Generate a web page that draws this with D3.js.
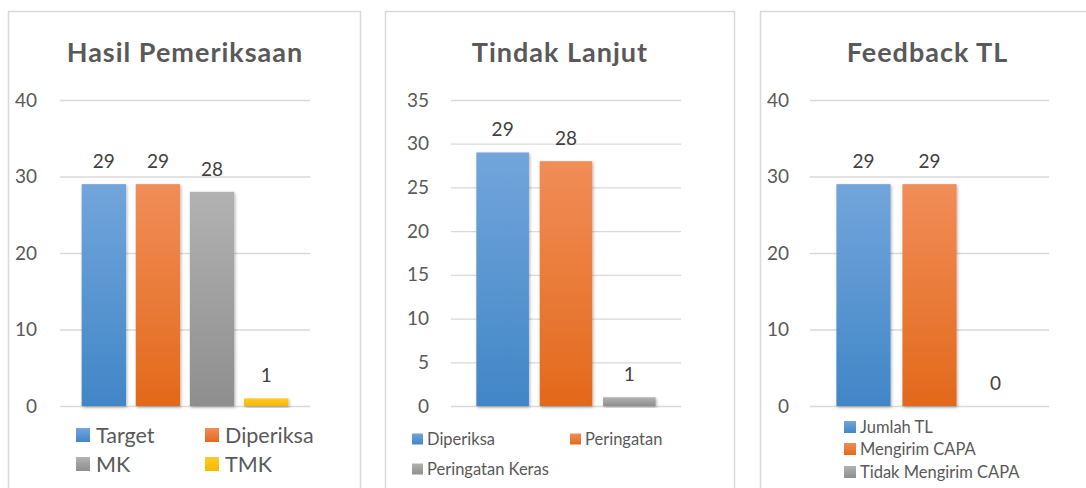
<!DOCTYPE html>
<html>
<head>
<meta charset="utf-8">
<script src="https://cdn.jsdelivr.net/npm/d3@7"></script>
<style>
  body { margin: 0; background: #fff; }
  svg { display: block; font-family: Lato, "Open Sans", sans-serif; }
</style>
</head>
<body>
<div id="chart"></div>
<script>
// chart 1
const hasilSeries = ['Target', 'Diperiksa', 'MK', 'TMK'];
const hasilValues = [29, 29, 28, 1];
const hasilTicks = [0, 10, 20, 30, 40];

// chart 2
const tindakSeries = ['Diperiksa', 'Peringatan', 'Peringatan Keras'];
const tindakValues = [29, 28, 1];
const tindakTicks = [0, 5, 10, 15, 20, 25, 30, 35];

// chart 3
const feedbackSeries = ['Jumlah TL', 'Mengirim CAPA', 'Tidak Mengirim CAPA'];
const feedbackValues = [29, 29, 0];
const feedbackTicks = [0, 10, 20, 30, 40];

const colors = {
  blue: ['#72a5db', '#4186c7'],
  orange: ['#f18d58', '#e2691b'],
  gray: ['#b2b2b2', '#8e8e8e'],
  yellow: ['#ffcb2b', '#f5b800']
};

const width = 1086, height = 488;
const svg = d3.select('#chart').append('svg')
  .attr('width', width)
  .attr('height', height);

const defs = svg.append('defs');

Object.keys(colors).forEach(k => {
  const g = defs.append('linearGradient')
    .attr('id', 'grad-' + k)
    .attr('x1', 0).attr('y1', 0).attr('x2', 0).attr('y2', 1);
  g.append('stop').attr('offset', '0%').attr('stop-color', colors[k][0]);
  g.append('stop').attr('offset', '100%').attr('stop-color', colors[k][1]);
});

const shadow = defs.append('filter').attr('id', 'shadow')
  .attr('x', '-20%').attr('y', '-20%').attr('width', '140%').attr('height', '140%');
shadow.append('feDropShadow')
  .attr('dx', 1).attr('dy', 1.5).attr('stdDeviation', 1.8)
  .attr('flood-color', '#000').attr('flood-opacity', 0.3);

// draws one panel
function drawChart(opt) {
  const g = svg.append('g');

  g.append('rect')
    .attr('x', opt.box[0] + 0.5).attr('y', opt.box[1] + 0.5)
    .attr('width', opt.box[2]).attr('height', opt.box[3])
    .attr('fill', '#fff')
    .attr('stroke', '#d9d9d9')
    .attr('stroke-width', 1.5);

  g.append('text')
    .attr('x', (opt.plot[0] + opt.plot[1]) / 2 + opt.titleDx)
    .attr('y', 62)
    .attr('text-anchor', 'middle')
    .attr('font-size', 27)
    .attr('font-weight', 'bold')
    .attr('letter-spacing', 1)
    .attr('fill', '#595959')
    .text(opt.title);

  const y = d3.scaleLinear()
    .domain([0, opt.max])
    .range([406, 100]);

  const x = d3.scaleBand()
    .domain(opt.series)
    .range([opt.plot[0], opt.plot[1]])
    .paddingInner(opt.padIn)
    .paddingOuter(opt.padOut);

  const yAxis = d3.axisLeft(y)
    .tickValues(opt.ticks)
    .tickSize(-(opt.plot[1] - opt.plot[0]))
    .tickPadding(opt.tickPad);

  const ax = g.append('g')
    .attr('transform', `translate(${opt.plot[0]},0)`)
    .call(yAxis);
  ax.select('.domain').remove();
  ax.selectAll('line').attr('stroke', '#d9d9d9').attr('stroke-width', 1.3);
  ax.selectAll('text')
    .attr('font-size', 19)
    .attr('fill', '#595959')
    .attr('font-family', 'Lato, sans-serif');

  const data = opt.series.map((s, i) => ({ name: s, value: opt.values[i], color: opt.colors[i] }));

  g.selectAll('.bar')
    .data(data.filter(d => d.value > 0))
    .enter().append('rect')
    .attr('class', 'bar')
    .attr('x', d => x(d.name))
    .attr('width', x.bandwidth())
    .attr('y', d => y(d.value))
    .attr('height', d => y(0) - y(d.value))
    .attr('fill', d => `url(#grad-${d.color})`)
    .attr('filter', 'url(#shadow)');

  g.selectAll('.lbl')
    .data(data)
    .enter().append('text')
    .attr('class', 'lbl')
    .attr('x', d => x(d.name) + x.bandwidth() / 2)
    .attr('y', d => y(d.value) - 16)
    .attr('text-anchor', 'middle')
    .attr('font-size', 19)
    .attr('fill', '#404040')
    .text(d => d.value);

  // legend
  const leg = g.selectAll('.leg')
    .data(data)
    .enter().append('g')
    .attr('class', 'leg')
    .attr('transform', (d, i) => `translate(${opt.legend[i][0]},${opt.legend[i][1]})`);
  leg.append('rect')
    .attr('x', 0).attr('y', -opt.legSize / 2)
    .attr('width', opt.legSize).attr('height', opt.legSize)
    .attr('fill', d => `url(#grad-${d.color})`);
  leg.append('text')
    .attr('x', opt.legSize + opt.legGap)
    .attr('y', 0)
    .attr('dy', '0.35em')
    .attr('font-size', opt.legFont)
    .attr('fill', '#595959')
    .text(d => d.name);
}

drawChart({
  box: [8, 11, 352, 490],
  title: 'Hasil Pemeriksaan',
  titleDx: 0,
  plot: [60, 310],
  series: hasilSeries,
  values: hasilValues,
  ticks: hasilTicks,
  max: 40,
  padIn: 0.18,
  padOut: 0.4,
  tickPad: 23,
  colors: ['blue', 'orange', 'gray', 'yellow'],
  legend: [[76, 435], [205, 435], [76, 464], [205, 464]],
  legSize: 14,
  legGap: 6,
  legFont: 21.5
});

drawChart({
  box: [385, 11, 349, 490],
  title: 'Tindak Lanjut',
  titleDx: -6,
  plot: [451, 681],
  series: tindakSeries,
  values: tindakValues,
  ticks: tindakTicks,
  max: 35,
  padIn: 0.17,
  padOut: 0.4,
  tickPad: 22,
  colors: ['blue', 'orange', 'gray'],
  legend: [[412, 439], [570, 439], [412, 469]],
  legSize: 11,
  legGap: 4,
  legFont: 16.5
});

drawChart({
  box: [760, 11, 340, 490],
  title: 'Feedback TL',
  titleDx: -2,
  plot: [810, 1049],
  series: feedbackSeries,
  values: feedbackValues,
  ticks: feedbackTicks,
  max: 40,
  padIn: 0.18,
  padOut: 0.4,
  tickPad: 21,
  colors: ['blue', 'orange', 'gray'],
  legend: [[844, 427], [844, 449], [844, 472]],
  legSize: 12,
  legGap: 4,
  legFont: 16.5
});
</script>
</body>
</html>
